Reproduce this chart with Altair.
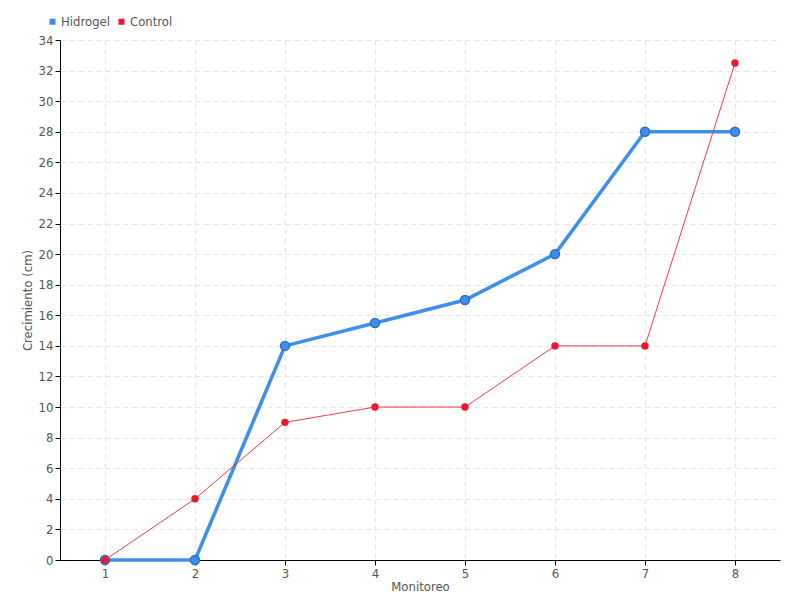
import altair as alt
import pandas as pd

monitoreo = [1, 2, 3, 4, 5, 6, 7, 8]
hidrogel = [0, 0, 14, 15.5, 17, 20, 28, 28]
control = [0, 4, 9, 10, 10, 14, 14, 32.5]
series_names = ["Hidrogel", "Control"]
y_ticks = list(range(0, 35, 2))

df_h = pd.DataFrame({"Monitoreo": monitoreo, "valor": hidrogel, "serie": "Hidrogel"})
df_c = pd.DataFrame({"Monitoreo": monitoreo, "valor": control, "serie": "Control"})

FONT = "DejaVu Sans Condensed, DejaVu Sans, sans-serif"
color_scale = alt.Scale(domain=series_names, range=["#3d8fe9", "#e8192c"])

x_enc = alt.X("Monitoreo:O", title="Monitoreo",
              scale=alt.Scale(type="point", padding=0.5),
              axis=alt.Axis(labelAngle=0, grid=True))
y_enc = alt.Y("valor:Q", title="Crecimiento (cm)",
              scale=alt.Scale(domain=[0, 34], nice=False),
              axis=alt.Axis(values=y_ticks, grid=True))
c_enc = alt.Color("serie:N", scale=color_scale, title=None,
                  legend=alt.Legend(orient="none", direction="horizontal",
                                    legendX=-14, legendY=-25, symbolType="square",
                                    symbolSize=36, labelFontSize=13, columnPadding=4,
                                    labelOffset=2, symbolStrokeWidth=0))

h_line = alt.Chart(df_h).mark_line(strokeWidth=3.5).encode(x=x_enc, y=y_enc, color=c_enc)
h_pts = alt.Chart(df_h).mark_point(filled=True, size=80, stroke="#2a6fc4", strokeWidth=1.5, opacity=1).encode(
    x=x_enc, y=y_enc, color=c_enc)
c_line = alt.Chart(df_c).mark_line(strokeWidth=1, color="#f03a4c").encode(x=x_enc, y=y_enc)
c_pts = alt.Chart(df_c).mark_point(filled=True, size=55, opacity=1).encode(
    x=x_enc, y=y_enc, color=c_enc)

chart = alt.layer(h_line, h_pts, c_line, c_pts).properties(
    width=720, height=520,
    autosize=alt.AutoSizeParams(type="none"),
    padding={"left": 52, "top": 32, "right": 12, "bottom": 32},
).configure_axis(
    labelFont=FONT, titleFont=FONT, labelFontSize=13, titleFontSize=13,
    labelColor="#555555", titleColor="#555555", titleFontWeight="normal",
    domainColor="#000000", tickColor="#000000", tickSize=5,
    gridColor="#e3e3e3", gridDash=[5, 4], gridWidth=1,
    labelPadding=2,
).configure_axisY(
    titlePadding=4,
).configure_axisX(
    titlePadding=0,
).configure_legend(
    labelFont=FONT, labelColor="#555555",
).configure_view(stroke=None)

chart.save("out.html", embed_options={"renderer": "svg", "actions": False})
